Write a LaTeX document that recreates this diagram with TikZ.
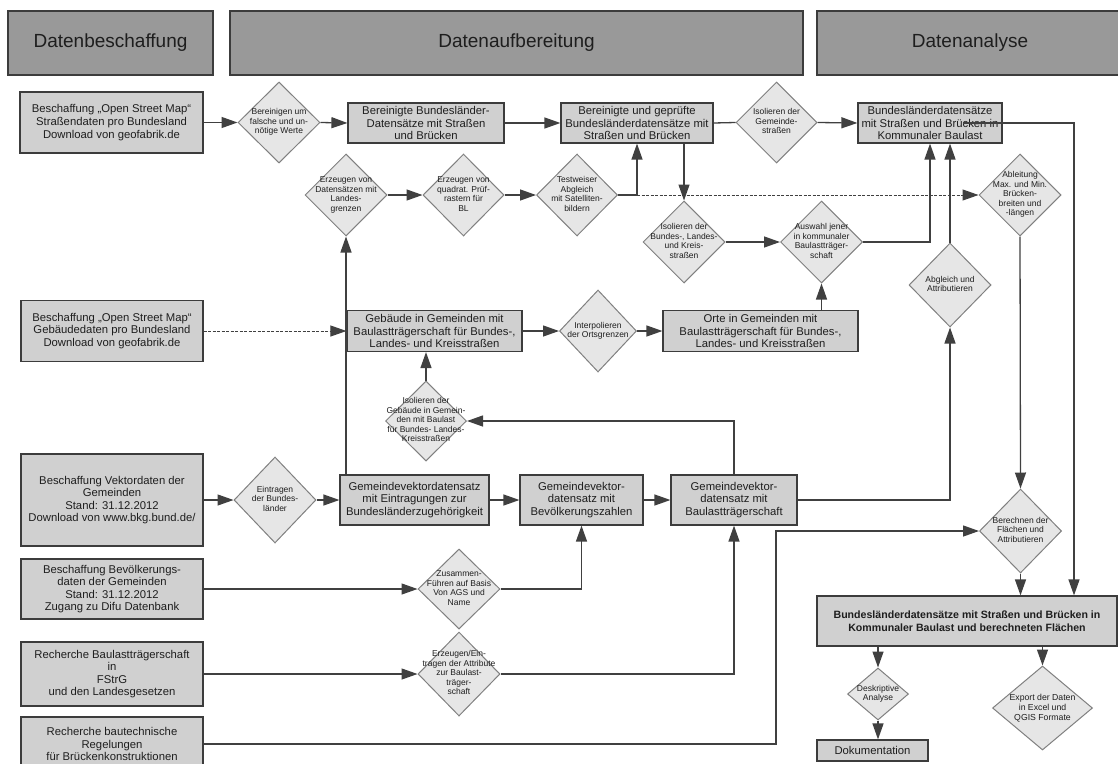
\documentclass[tikz,border=0pt]{standalone}
\usepackage{fontspec}
\setmainfont{Liberation Sans}
\usetikzlibrary{shapes.geometric,arrows.meta,calc}
\definecolor{boxfill}{RGB}{208,208,208}
\definecolor{diafill}{RGB}{230,230,230}
\definecolor{hdrfill}{RGB}{153,153,153}
\definecolor{boxline}{RGB}{60,60,60}
\definecolor{dialine}{RGB}{128,128,128}
\definecolor{linec}{RGB}{64,64,64}
\definecolor{txt}{RGB}{30,30,30}
\newcommand{\dtxt}[1]{\makebox[0pt]{\raisebox{\dimexpr(\depth-\height)/2\relax}[0pt][0pt]{\begin{tabular}{@{}c@{}}#1\end{tabular}}}}
\begin{document}
\begin{tikzpicture}[x=1pt,y=-1pt,
  sz/.style 2 args={minimum width=#1pt,minimum height=#2pt},
  hdr/.style={draw=boxline,fill=hdrfill,line width=1.2pt,text=txt,inner sep=0pt,font=\fontsize{19}{22}\selectfont},
  box/.style={draw=boxline,fill=boxfill,line width=1.2pt,text=txt,inner sep=1pt,align=center,font=\fontsize{11.3}{12.6}\selectfont},
  dia/.style={diamond,draw=dialine,fill=diafill,line width=1pt,text=txt,inner sep=0pt,font=\fontsize{8.5}{9.5}\selectfont},
  conn/.style={draw=linec,line width=1.3pt},
  arr/.style={conn,-{Triangle[length=16pt,width=11pt]}},
  dsh/.style={line width=1pt,dash pattern=on 3pt off 1.5pt}
]
\useasboundingbox (0,0) rectangle (1118,763);
\fill[white] (0,0) rectangle (1118,763);

% headers
\node[hdr,sz={205}{64}] (H1) at (110.5,43) {Datenbeschaffung};
\node[hdr,sz={573}{64}] (H2) at (516.5,43) {Datenaufbereitung};
\node[hdr,sz={306}{64}] (H3) at (970,43) {Datenanalyse};

% row 1
\node[box,sz={183}{61}] (B1) at (111.5,122.5) {Beschaffung „Open Street Map“\\Straßendaten pro Bundesland\\Download von geofabrik.de};
\node[dia,sz={82}{81}] (D1) at (279,122.5) {\dtxt{Bereinigen um\\falsche und un-\\nötige Werte}};
\node[box,sz={156}{40}] (B2) at (426,123) {Bereinigte Bundesländer-\\Datensätze mit Straßen\\und Brücken};
\node[box,sz={152}{40}] (B3) at (637,123) {Bereinigte und geprüfte\\Bundesländerdatensätze mit\\Straßen und Brücken};
\node[dia,sz={81}{81}] (D2) at (776.5,122.5) {\dtxt{Isolieren der\\Gemeinde-\\straßen}};
\node[box,sz={144}{40}] (B4) at (930,123) {Bundesländerdatensätze\\mit Straßen und Brücken in\\Kommunaler Baulast};

% row 2
\node[dia,sz={82}{82}] (D3) at (346,195) {\dtxt{Erzeugen von\\Datensätzen mit\\Landes-\\grenzen}};
\node[dia,sz={81}{82}] (D4) at (463.5,195) {\dtxt{Erzeugen von\\quadrat. Prüf-\\rastern für\\BL}};
\node[dia,sz={81}{82}] (D5) at (577,195) {\dtxt{Testweiser\\Abgleich\\mit Satelliten-\\bildern}};
\node[dia,sz={82}{82}] (DA) at (1020,195) {\dtxt{Ableitung\\Max. und Min.\\Brücken-\\breiten und\\-längen}};

% row 3
\node[dia,sz={82}{82}] (D6) at (684,242) {\dtxt{Isolieren der\\Bundes-, Landes-\\und Kreis-\\straßen}};
\node[dia,sz={82}{82}] (D7) at (821.5,242) {\dtxt{Auswahl jener\\in kommunaler\\Baulastträger-\\schaft}};
\node[dia,sz={82}{84}] (D8) at (950,285) {\dtxt{Abgleich und\\Attributieren}};

% row 4
\node[box,sz={182}{61}] (B5) at (112,331) {Beschaffung „Open Street Map“\\Gebäudedaten pro Bundesland\\Download von geofabrik.de};
\node[box,sz={175}{41}] (B6) at (434.5,331) {Gebäude in Gemeinden mit\\Baulastträgerschaft für Bundes-,\\Landes- und Kreisstraßen};
\node[dia,sz={77}{82}] (D9) at (598,331) {\dtxt{Interpolieren\\der Ortsgrenzen}};
\node[box,sz={195}{41}] (B7) at (760.5,331) {Orte in Gemeinden mit\\Baulastträgerschaft für Bundes-,\\Landes- und Kreisstraßen};

% row 5
\node[dia,sz={81}{80}] (D10) at (426,421) {\dtxt{Isolieren der\\Gebäude in Gemein-\\den mit Baulast\\für Bundes- Landes-\\Kreisstraßen}};

% row 6
\node[box,sz={182}{92}] (B8) at (112,500) {Beschaffung Vektordaten der\\Gemeinden\\Stand: 31.12.2012\\Download von www.bkg.bund.de/};
\node[dia,sz={82}{86}] (D11) at (275,500) {\dtxt{Eintragen\\der Bundes-\\länder}};
\node[box,sz={149}{50}] (B9) at (414.5,500) {Gemeindevektordatensatz\\mit Eintragungen zur\\Bundesländerzugehörigkeit};
\node[box,sz={123}{50}] (B10) at (581.5,500) {Gemeindevektor-\\datensatz mit\\Bevölkerungszahlen};
\node[box,sz={126}{50}] (B11) at (734,500) {Gemeindevektor-\\datensatz mit\\Baulastträgerschaft};

\node[dia,sz={82}{84}] (D12) at (1020.5,531) {\dtxt{Berechnen der\\Flächen und\\Attributieren}};

% lower left
\node[box,sz={182}{60}] (B14) at (112,589) {Beschaffung Bevölkerungs-\\daten der Gemeinden\\Stand: 31.12.2012\\Zugang zu Difu Datenbank};
\node[dia,sz={82}{80}] (D15) at (459,589) {\dtxt{Zusammen-\\Führen auf Basis\\Von AGS und\\Name}};
\node[box,sz={182}{64}] (B15) at (112,674) {Recherche Baulastträgerschaft\\in\\FStrG\\und den Landesgesetzen};
\node[dia,sz={82}{84}] (D16) at (459,674) {\dtxt{Erzeugen/Ein-\\tragen der Attribute\\zur Baulast-\\träger-\\schaft}};
\node[box,sz={182}{54}] (B16) at (112,744) {Recherche bautechnische\\Regelungen\\für Brückenkonstruktionen};

% analysis
\node[box,sz={300}{50},font=\fontsize{10.6}{12.8}\selectfont\bfseries] (B12) at (967,621) {Bundesländerdatensätze mit Straßen und Brücken in\\Kommunaler Baulast und berechneten Flächen};
\node[dia,sz={61}{52}] (D13) at (878,694) {\dtxt{Deskriptive\\Analyse}};
\node[box,sz={111}{21}] (B13) at (872.5,750.5) {Dokumentation};
\node[dia,sz={100}{84},font=\fontsize{8.7}{10}\selectfont] (D14) at (1042.5,708) {\dtxt{Export der Daten\\in Excel und\\QGIS Formate}};

% helper coordinates
\coordinate (J1) at (637,195);
\coordinate (R1) at (1074,123);
\coordinate (R2) at (776,744);

% connectors row 1
\draw[arr] (B1.east) -- (D1.west);
\draw[arr] (D1.east) -- (B2.west);
\draw[arr] (B2.east) -- (B3.west);
\draw[conn] (B3.east) -- (D2.west);
\draw[arr] (D2.east) -- (B4.west);
\draw[arr] ($(B4.center)+(33,0)$) -- (R1) -- (R1 |- B12.north);

% row 2
\draw[arr] (D3.east) -- (D4.west);
\draw[arr] (D4.east) -- (D5.west);
\draw[arr] (D5.east) -- (J1) -- (B3.south);
\draw[arr,dsh] (J1) -- (DA.west);
\draw[arr] (D6.north |- B3.south) -- (D6.north);
\draw[arr] (D6.east) -- (D7.west);
\draw[arr] (D7.east) -| (B4.south);
\draw[arr] (D8.north) -- (D8.north |- B4.south);
\draw[arr] (DA.south) -- (D12.north);
\draw[arr] (D12.south) -- (D12.south |- B12.north);

% row 4
\draw[arr,dsh] (B5.east) -- (B6.west);
\draw[arr] (B6.east) -- (D9.west);
\draw[arr] (D9.east) -- (B7.west);
\draw[arr] (D7.south |- B7.north) -- (D7.south);
\draw[arr] (D10.north) -- (D10.north |- B6.south);
\draw[arr] (D3.south |- B9.north) -- (D3.south);

% row 6
\draw[arr] (B8.east) -- (D11.west);
\draw[arr] (D11.east) -- (B9.west);
\draw[arr] (B9.east) -- (B10.west);
\draw[arr] (B10.east) -- (B11.west);
\draw[arr] (B11.north) |- (D10.east);
\draw[arr] (B11.east) -| (D8.south);

% lower left
\draw[arr] (B14.east) -- (D15.west);
\draw[arr] (D15.east) -| (B10.south);
\draw[arr] (B15.east) -- (D16.west);
\draw[arr] (D16.east) -| (B11.south);
\draw[arr] (B16.east) -- (R2) |- (D12.west);

% analysis
\draw[arr] (D13.north |- B12.south) -- (D13.north);
\draw[arr] (D13.south) -- (D13.south |- B13.north);
\draw[arr] (D14.north |- B12.south) -- (D14.north);
\end{tikzpicture}
\end{document}
